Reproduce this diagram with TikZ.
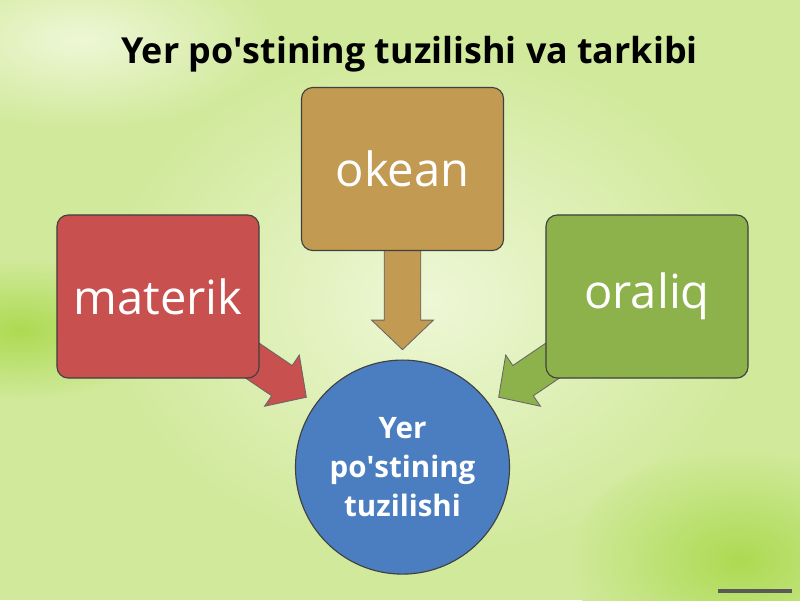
\documentclass[tikz,border=0pt]{standalone}
\usepackage{fontspec}
\setmainfont{Open Sans}
\usetikzlibrary{calc,positioning}

\definecolor{matred}{HTML}{C8504E}
\definecolor{oketan}{HTML}{C29A52}
\definecolor{oragrn}{HTML}{8DB24C}
\definecolor{yerblu}{HTML}{4A7EC1}
\definecolor{bgbase}{HTML}{D0E99A}
\definecolor{bglite}{HTML}{EEF7D6}
\definecolor{bgdeep}{HTML}{ACDA52}

\pgfdeclarelayer{background}
\pgfsetlayers{background,main}

\tikzstyle{block}=[rectangle, draw=black!75, line width=0.8pt, text=white,
		rounded corners=8pt, minimum width=5.05cm, minimum height=4.075cm,
		font=\fontsize{33.5}{40}\selectfont]
\tikzstyle{hub}=[circle, draw=black!75, line width=0.8pt, fill=yerblu,
		text=white, minimum size=5.35cm, align=center,
		font=\bfseries\fontsize{21}{28}\selectfont]
\tikzstyle{fat}=[draw=black!60, line width=0.6pt, line join=miter]

% block arrow from #1 to the tip #2
\newcommand{\fatarrow}[3]{%
  \coordinate (fa-h) at ($(#2)!21pt!(#1)$);
  \draw[fat, #3] ($(#1)!13pt!90:(#2)$) -- ($(fa-h)!13pt!90:(#2)$)
    -- ($(fa-h)!22pt!90:(#2)$) -- (#2) -- ($(fa-h)!22pt!-90:(#2)$)
    -- ($(fa-h)!13pt!-90:(#2)$) -- ($(#1)!13pt!-90:(#2)$) -- cycle;
}

\begin{document}
\begin{tikzpicture}[x=0.025cm, y=-0.025cm]
  \useasboundingbox (0,0) rectangle (800,600);

    \node (Ttl) [font=\bfseries\fontsize{25.5}{30}\selectfont, anchor=base]
    at (409.5,63) {Yer po\textquotesingle stining tuzilishi va tarkibi};


    \node (Oke) [block, fill=oketan] at (402.5,169) {okean};

    \node (Mat) [block, fill=matred] at (158,296.5) {materik};

    \node (Ora) [block, fill=oragrn] at (647,296.5) {oraliq};


    \node (Yer) [hub, below of=Oke, node distance=7.45cm] {
      Yer\\po\textquotesingle stining\\tuzilishi
    };

    \coordinate (tipO) at ($(Yer.north)!-7pt!(Yer.center)$);
    \coordinate (tipM) at ($(Yer.144)!-8pt!(Yer.center)$);
    \coordinate (tipR) at ($(Yer.36)!-8pt!(Yer.center)$);

    \draw[line width=2.5pt, black!65] (718,591) -- (792,591);


  \begin{pgfonlayer}{background}
    \fill[bgbase] (0,0) rectangle (800,600);
    \shade[inner color=bglite, outer color=bgbase] (430,300) ellipse (330 and 260);
    \shade[inner color=bgdeep, outer color=bgbase] (20,330) ellipse (140 and 70);
    \shade[inner color=bgdeep, outer color=bgbase] (740,560) ellipse (170 and 110);
    \shade[inner color=bglite, outer color=bgbase] (80,40) ellipse (200 and 90);

    \fatarrow{Oke.center}{tipO}{fill=oketan}
    \fatarrow{Mat.center}{tipM}{fill=matred}
    \fatarrow{Ora.center}{tipR}{fill=oragrn}
  \end{pgfonlayer}

  \end{tikzpicture}
\end{document}
